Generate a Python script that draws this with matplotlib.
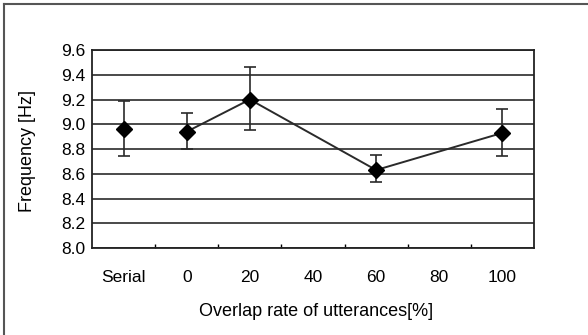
import numpy as np
import matplotlib.pyplot as plt
from matplotlib.lines import Line2D

plt.rcParams['font.family'] = ['Liberation Sans', 'DejaVu Sans']

# data
categories = ['Serial', '0', '20', '40', '60', '80', '100']
freq = [8.96, 8.94, 9.20, np.nan, 8.63, np.nan, 8.93]
err_up = [0.23, 0.15, 0.26, np.nan, 0.12, np.nan, 0.19]
err_down = [0.22, 0.14, 0.25, np.nan, 0.10, np.nan, 0.19]

x = np.arange(len(categories))
freq = np.array(freq)
err = np.array([err_down, err_up])

fig = plt.figure(figsize=(5.88, 3.35), dpi=100)
ax = fig.add_axes([92 / 588, 87 / 335, 442 / 588, 198 / 335])

# grid lines
ax.set_ylim(8.0, 9.6)
ax.set_yticks(np.arange(8.0, 9.61, 0.2))
ax.grid(axis='y', color='#3a3a3a', lw=1.3)
ax.set_axisbelow(True)

# line only across overlap conditions (Serial stands alone)
ok = ~np.isnan(freq)
ok[0] = False
ax.plot(x[ok], freq[ok], color='#2a2a2a', lw=1.4, zorder=3)

ax.errorbar(x, freq, yerr=err, fmt='D', color='black', ms=8, ecolor='#2a2a2a',
            elinewidth=1.2, capsize=4, capthick=1.2, zorder=4)

ax.set_xlim(-0.5, len(categories) - 0.5)
ax.set_xticks(x)
ax.set_xticklabels(categories)
ax.set_xticks(np.arange(0.5, len(categories) - 0.5), minor=True)
ax.tick_params(axis='x', which='major', length=0, pad=16, labelsize=12.5)
ax.tick_params(axis='x', which='minor', direction='in', length=3, width=1)
ax.tick_params(axis='y', length=0, pad=5, labelsize=12.5)
ax.set_yticklabels([f'{v:.1f}' for v in np.arange(8.0, 9.61, 0.2)])

for s in ax.spines.values():
    s.set_color('#222222')
    s.set_linewidth(1.3)

ax.set_xlabel('Overlap rate of utterances[%]', fontsize=13)
ax.xaxis.set_label_coords(0.507, -0.32)
ax.xaxis.label.set_va('center')
ax.set_ylabel('Frequency [Hz]', fontsize=13)
ax.yaxis.set_label_coords(-0.147, 0.49)
ax.yaxis.label.set_va('center')

# frame around the figure (only top and left visible)
fig.add_artist(Line2D([3.5 / 588, 3.5 / 588], [0, 1 - 4 / 335], color='#555555', lw=1.5,
                      transform=fig.transFigure))
fig.add_artist(Line2D([3.5 / 588, 1], [1 - 4 / 335, 1 - 4 / 335], color='#555555', lw=1.5,
                      transform=fig.transFigure))

fig.savefig('out.png', dpi=100)
